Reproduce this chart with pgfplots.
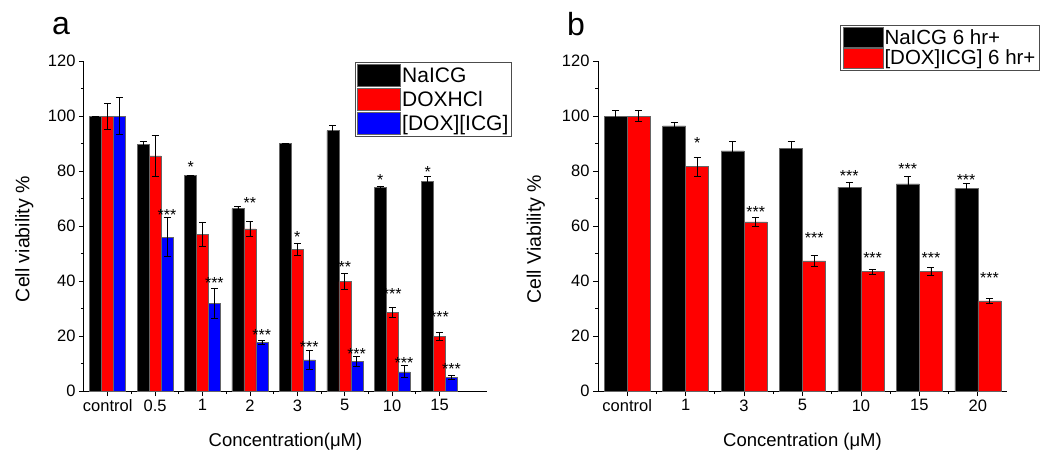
\documentclass[border=0pt]{standalone}
\usepackage{fontspec}
\setmainfont{Liberation Sans}
\usepackage{pgfplots}
\usepackage{pgfplotstable}
\pgfplotsset{compat=1.18}

% panel a: x, NaICG, err, DOXHCl, err, [DOX][ICG], err
\pgfplotstableread{
x  na    ena  dox   edox  di    edi
0  100   0    100   4.7   100   6.7
1  89.8  1.0  85.5  7.5   56    7
2  78.3  0    57    4.5   32    5.5
3  66.3  0.8  59    2.7   17.8  0.8
4  90    0    51.5  2.2   11.3  3.4
5  94.7  1.9  39.8  3.0   10.7  1.8
6  74.1  0.5  28.5  1.8   7     2.2
7  76.1  1.9  19.8  1.4   5     0.8
}\dataA

% panel b: x, NaICG 6 hr+, err, [DOX]ICG 6 hr+, err
\pgfplotstableread{
x  na    ena  di    edi
0  100   2    100   2
1  96.4  1.4  81.6  3.4
2  87.3  3.4  61.5  1.5
3  88.1  2.8  47.3  1.9
4  74.1  1.7  43.4  0.8
5  75.3  2.6  43.6  1.4
6  73.7  1.8  32.8  0.8
}\dataB

\definecolor{barred}{RGB}{255,0,0}
\definecolor{barblue}{RGB}{0,0,255}

\pgfplotsset{
  cellaxis/.style={
    scale only axis,
    height=330pt,
    ybar=0pt,
    ymin=0, ymax=120,
    ytick={0,20,...,120},
    minor y tick num=1,
    axis x line*=bottom,
    axis y line*=left,
    tick align=outside,
    major tick length=5pt,
    minor tick length=3pt,
    every tick/.style={black, line width=0.8pt},
    axis line style={black, line width=1pt},
    minor x tick num=1,
    xtick={0,...,7},
    tick label style={font=\fontsize{16.5}{18}\selectfont},
    /pgf/number format/assume math mode=true,
    label style={font=\fontsize{18.5}{20}\selectfont},
    xlabel style={at={(axis description cs:0.5,-0.155)}, anchor=center},
    clip=false,
    legend cell align=left,
    legend image code/.code={\draw[##1] (0pt,-11pt) rectangle (43pt,11pt);},
  },
  barbase/.style={draw=black!60, line width=0.5pt,
    /pgfplots/error bars/y dir=both,
    /pgfplots/error bars/y explicit,
    /pgfplots/error bars/error bar style={black, line width=0.7pt},
    /pgfplots/error bars/error mark options={rotate=90, black, mark size=3.5pt, line width=0.7pt}},
}
\tikzset{star/.style={font=\fontsize{16}{16}\selectfont, inner sep=0pt, anchor=center, yshift=-3.5pt}}

\begin{document}
\begin{tikzpicture}
\path[use as bounding box] (0pt,0pt) rectangle (1050pt,467pt);

% ---------- panel a ----------
\begin{axis}[cellaxis,
  at={(84pt,76pt)}, anchor=south west,
  width=403pt,
  xmin=-0.5, xmax=8,
  xticklabels={control,0.5,1,2,3,5,10,15},
  xlabel={Concentration(μM)},
  ylabel={Cell viability \%},
  ylabel style={at={(axis description cs:-0.148,0.46)}, anchor=center, font=\fontsize{19.5}{21}\selectfont},
  bar width=12pt,
  legend style={at={(axis description cs:0.672,0.997)}, anchor=north west,
    draw=black!70, line width=0.8pt, font=\fontsize{21}{23}\selectfont,
    inner sep=2pt, row sep=1.5pt, nodes={inner sep=1.5pt}},
]
\addplot[barbase, fill=black] table[x=x, y=na, y error=ena] {\dataA};
\addplot[barbase, fill=barred] table[x=x, y=dox, y error=edox] {\dataA};
\addplot[barbase, fill=barblue] table[x=x, y=di, y error=edi] {\dataA};
\addlegendentry{NaICG}
\addlegendentry{DOXHCl}
\addlegendentry{\relax[DOX][ICG]}

\node[star] at (axis cs:1.75,82.8) {*};
\node[star] at (axis cs:5.75,77.9) {*};
\node[star] at (axis cs:6.75,81) {*};
\node[star] at (axis cs:3,69.5) {**};
\node[star] at (axis cs:4,57.3) {*};
\node[star] at (axis cs:5,46.4) {**};
\node[star] at (axis cs:6,36.5) {***};
\node[star] at (axis cs:7,28.2) {***};
\node[star] at (axis cs:1.25,65.2) {***};
\node[star] at (axis cs:2.25,40.4) {***};
\node[star] at (axis cs:3.25,21.8) {***};
\node[star] at (axis cs:4.25,17.1) {***};
\node[star] at (axis cs:5.25,14.7) {***};
\node[star] at (axis cs:6.25,11.3) {***};
\node[star] at (axis cs:7.25,9.1) {***};
\end{axis}

% ---------- panel b ----------
\begin{axis}[cellaxis,
  at={(598pt,76pt)}, anchor=south west,
  width=409pt,
  xmin=-0.5, xmax=6.5,
  xtick={0,...,6},
  xticklabels={control,1,3,5,10,15,20},
  xlabel={Concentration (μM)},
  ylabel={Cell Viability \%},
  ylabel style={at={(axis description cs:-0.152,0.46)}, anchor=center, font=\fontsize{19.5}{21}\selectfont},
  bar width=23pt,
  legend style={at={(axis description cs:0.592,1.109)}, anchor=north west,
    draw=black!70, line width=0.8pt, font=\fontsize{20.5}{22}\selectfont,
    inner sep=2pt, row sep=0pt, nodes={inner sep=1.5pt}},
  legend image code/.code={\draw[#1] (0pt,-10pt) rectangle (40pt,10pt);},
]
\addplot[barbase, fill=black] table[x=x, y=na, y error=ena] {\dataB};
\addplot[barbase, fill=barred] table[x=x, y=di, y error=edi] {\dataB};
\addlegendentry{NaICG 6 hr+}
\addlegendentry{\relax[DOX]ICG] 6 hr+}

\node[star] at (axis cs:1.2,91.3) {*};
\node[star] at (axis cs:2.2,66.4) {***};
\node[star] at (axis cs:3.2,57) {***};
\node[star] at (axis cs:3.8,79.4) {***};
\node[star] at (axis cs:4.8,81.9) {***};
\node[star] at (axis cs:5.8,77.9) {***};
\node[star] at (axis cs:4.2,49.7) {***};
\node[star] at (axis cs:5.2,49.5) {***};
\node[star] at (axis cs:6.2,42.2) {***};
\end{axis}

\node[font=\fontsize{32}{34}\selectfont, anchor=base] at (61pt,432pt) {a};
\node[font=\fontsize{32}{34}\selectfont, anchor=base] at (576pt,431pt) {b};
\end{tikzpicture}
\end{document}
